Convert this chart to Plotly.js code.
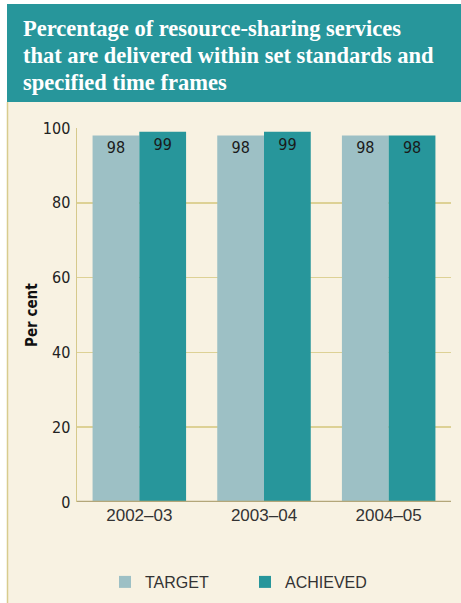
<!DOCTYPE html>
<html><head><meta charset="utf-8">
<script src="https://cdn.plot.ly/plotly-3.0.1.min.js"></script>
<style>body{margin:0;padding:0;background:#fff}#chart{width:461px;height:603px}</style>
</head><body><div id="chart"></div>
<script>
const categories = ['2002–03', '2003–04', '2004–05'];
const targetValues = [98, 98, 98];
const achievedValues = [99, 99, 98];
const seriesNames = ['TARGET', 'ACHIEVED'];
const yTicks = [0, 20, 40, 60, 80, 100];
const yAxisTitle = 'Per cent';
const titleLines = ['Percentage of resource-sharing services',
                    'that are delivered within set standards and',
                    'specified time frames'];

const W = 461, H = 603;
const L = 77, R = 10, T = 128, B = 101;
const pw = W - L - R, ph = H - T - B;
const px = x => (x - L) / pw;
const py = y => (H - B - y) / ph;

const narrow = 'DejaVu Sans Condensed, Liberation Sans Narrow, Arial Narrow, sans-serif';
const sans = 'Liberation Sans, Arial, sans-serif';
const teal = '#27969b', light = '#9dc0c5';

const traces = [
  {type: 'bar', name: seriesNames[0], x: categories, y: targetValues, text: targetValues.map(String),
   textposition: 'inside', insidetextanchor: 'end', textangle: 0,
   textfont: {family: narrow, size: 16, color: '#1a1a1a'},
   marker: {color: light, line: {width: 0}}, cliponaxis: false, hoverinfo: 'none'},
  {type: 'bar', name: seriesNames[1], x: categories, y: achievedValues, text: achievedValues.map(String),
   textposition: 'inside', insidetextanchor: 'end', textangle: 0,
   textfont: {family: narrow, size: 16, color: '#1a1a1a'},
   marker: {color: teal, line: {width: 0}}, cliponaxis: false, hoverinfo: 'none'}
];

const titleYs = [28, 56, 83];
const annotations = titleLines.map((t, i) => ({
  xref: 'paper', yref: 'paper', x: px(21), y: py(titleYs[i]), xanchor: 'left', yanchor: 'middle',
  showarrow: false, text: '<b>' + t + '</b>',
  font: {family: 'Liberation Serif, DejaVu Serif, serif', size: 22.5, color: '#ffffff'}
}));
annotations.push({
  xref: 'paper', yref: 'paper', x: px(32), y: py(315), xanchor: 'center', yanchor: 'middle',
  showarrow: false, textangle: -90, text: '<b>' + yAxisTitle + '</b>',
  font: {family: narrow, size: 15, color: '#111'}
});

const layout = {
  width: W, height: H,
  margin: {l: L, r: R, t: T, b: B, pad: 0, autoexpand: false},
  paper_bgcolor: '#ffffff', plot_bgcolor: 'rgba(0,0,0,0)',
  barmode: 'group', bargap: 0.25, bargroupgap: 0,
  showlegend: true,
  legend: {orientation: 'h', xref: 'container', yref: 'container',
           x: 105 / W, xanchor: 'left', y: 1 - 582 / H, yanchor: 'middle',
           font: {family: sans, size: 16, color: '#333'},
           entrywidth: 95, entrywidthmode: 'pixels',
           bgcolor: 'rgba(0,0,0,0)', traceorder: 'normal'},
  font: {family: sans},
  xaxis: {type: 'category', showgrid: false, zeroline: false, showline: false, ticks: '',
          automargin: false,
          tickfont: {family: sans, size: 17, color: '#333'},
          ticklabelstandoff: 1},
  yaxis: {range: [0, 100], tickvals: yTicks, ticktext: yTicks.map(String), automargin: false,
          showgrid: true, gridcolor: '#ddd195', gridwidth: 1.5,
          zeroline: false, showline: true, linecolor: '#d6c98c', linewidth: 1.5,
          ticks: '', tickfont: {family: narrow, size: 16, color: '#222'},
          ticklabelstandoff: 2},
  shapes: [
    {type: 'rect', xref: 'paper', yref: 'paper', x0: px(7), x1: px(461), y0: py(603), y1: py(102),
     fillcolor: '#f8f2e2', line: {width: 0}, layer: 'below'},
    {type: 'line', xref: 'paper', yref: 'paper', x0: px(7.5), x1: px(7.5), y0: py(603), y1: py(102),
     line: {color: '#d8cc8e', width: 1.5}, layer: 'below'},
    {type: 'rect', xref: 'paper', yref: 'paper', x0: px(7), x1: px(461), y0: py(102), y1: py(4),
     fillcolor: teal, line: {width: 0}, layer: 'below'},
    {type: 'line', xref: 'paper', yref: 'y', x0: 0, x1: 1, y0: 0, y1: 0,
     line: {color: '#b3a679', width: 2.5}, layer: 'above'}
  ],
  annotations: annotations
};

Plotly.newPlot('chart', traces, layout, {displayModeBar: false, staticPlot: true});
</script></body></html>
